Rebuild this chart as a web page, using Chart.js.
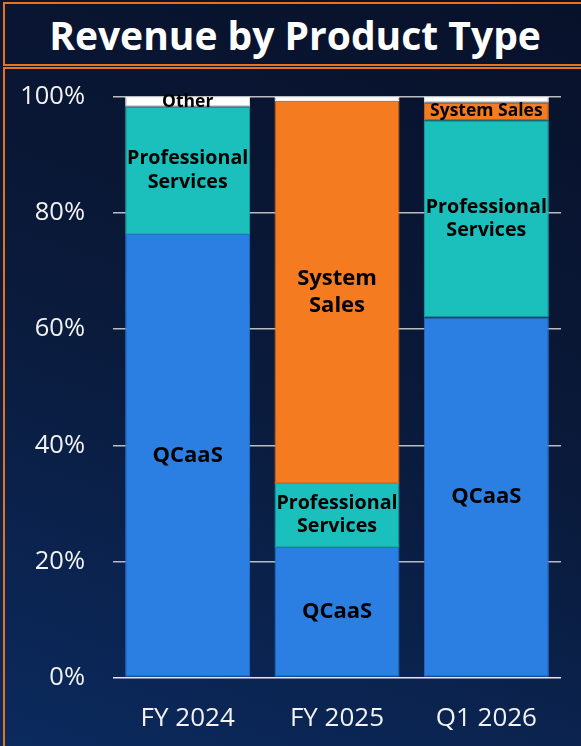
<!DOCTYPE html>
<html>
<head>
<meta charset="utf-8">
<script src="https://cdn.jsdelivr.net/npm/chart.js@4.4.1/dist/chart.umd.min.js"></script>
<style>
  html, body {
    margin: 0;
    padding: 0;
    width: 581px;
    height: 746px;
    overflow: hidden;
  }
  body {
    position: relative;
    background: linear-gradient(200deg, #08112a 0%, #0a1a3a 50%, #0b2a5e 100%);
    font-family: "Open Sans", "Noto Sans", sans-serif;
  }
  .title-box {
    position: absolute;
    left: 3px;
    top: 2px;
    width: 580px;
    height: 60px;
    border: 2px solid #e8731c;
    color: #fff;
    font-weight: 700;
    font-size: 39px;
    line-height: 62px;
    text-align: center;
  }
  .chart-box {
    position: absolute;
    left: 3px;
    top: 67px;
    width: 600px;
    height: 700px;
    border: 2px solid #e8731c;
  }
  #chart {
    position: absolute;
    left: 0;
    top: 0;
  }
</style>
</head>
<body>
<div class="title-box">Revenue by Product Type</div>
<div class="chart-box"></div>
<canvas id="chart" width="581" height="746"></canvas>
<script>
// Revenue mix, percent of total per period
const categories = ['FY 2024', 'FY 2025', 'Q1 2026'];
const qcaas = [76.4, 22.5, 62.0];
const professionalServices = [21.9, 11.0, 34.0];
const systemSales = [0, 65.8, 3.0];
const other = [1.7, 0.7, 1.0];
const yTicks = [0, 20, 40, 60, 80, 100];

const FONT = '"Open Sans", "Noto Sans", sans-serif';

// Writes the segment name inside each stacked block, shrinking it to fit
const segmentLabels = {
    id: 'segmentLabels',
    afterDatasetsDraw(chart) {
        const ctx = chart.ctx;
        ctx.save();
        ctx.fillStyle = '#000';
        ctx.textAlign = 'center';
        ctx.textBaseline = 'middle';
        chart.data.datasets.forEach((ds, i) => {
            const meta = chart.getDatasetMeta(i);
            meta.data.forEach((bar, j) => {
                const v = ds.data[j];
                if (v < 1.5) return;
                const h = Math.abs(bar.base - bar.y);
                const w = bar.width;
                const words = ds.label.split(' ');
                const lines = (words.length > 1 && h > 60) ? words : [ds.label];
                let size = 22;
                ctx.font = 'bold ' + size + 'px ' + FONT;
                const widest = Math.max(...lines.map(l => ctx.measureText(l).width));
                size = Math.min(size, size * (w * 0.97) / widest);
                if (h < 20) size = Math.min(size, 17.5);
                ctx.font = 'bold ' + size + 'px ' + FONT;
                const lineHeight = size * 1.2;
                const cy = (bar.y + bar.base) / 2;
                lines.forEach((line, k) => {
                    const y = cy + (k - (lines.length - 1) / 2) * lineHeight;
                    ctx.fillText(line, bar.x, y);
                });
            });
        });
        ctx.restore();
    }
};

new Chart(document.getElementById('chart'), {
    type: 'bar',
    data: {
        labels: categories,
        datasets: [
            { label: 'QCaaS', data: qcaas, backgroundColor: '#2b7ee2', borderColor: '#2670cc' },
            { label: 'Professional Services', data: professionalServices, backgroundColor: '#1bbfbb', borderColor: '#17aaa6' },
            { label: 'System Sales', data: systemSales, backgroundColor: '#f47b20', borderColor: '#dc6d1a' },
            { label: 'Other', data: other, backgroundColor: '#ffffff', borderColor: '#f0f0f0' }
        ]
    },
    options: {
        responsive: false,
        animation: false,
        layout: { padding: { top: 97, right: 20, left: 0, bottom: 0 } },
        datasets: {
            bar: {
                categoryPercentage: 1,
                barPercentage: 0.837,
                borderWidth: 1,
                borderSkipped: false
            }
        },
        plugins: {
            legend: { display: false },
            tooltip: { enabled: false }
        },
        scales: {
            x: {
                stacked: true,
                grid: { display: false },
                border: { display: false },
                ticks: {
                    color: '#f2f2f2',
                    padding: 17,
                    font: { size: 26, family: FONT }
                },
                afterFit(scale) { scale.height = 68.5; }
            },
            y: {
                stacked: true,
                min: 0,
                max: 100,
                afterBuildTicks(scale) {
                    scale.ticks = yTicks.map(v => ({ value: v }));
                },
                grid: {
                    drawTicks: false,
                    color: ctx => ctx.tick.value === 0 ? '#e6e6e6' : '#b9bcc2',
                    lineWidth: 1.5
                },
                border: { display: false },
                ticks: {
                    color: '#f2f2f2',
                    padding: 28,
                    font: { size: 25.5, family: FONT },
                    callback: v => v + '%'
                },
                afterFit(scale) { scale.width = 113; }
            }
        }
    },
    plugins: [segmentLabels]
});
</script>
</body>
</html>
